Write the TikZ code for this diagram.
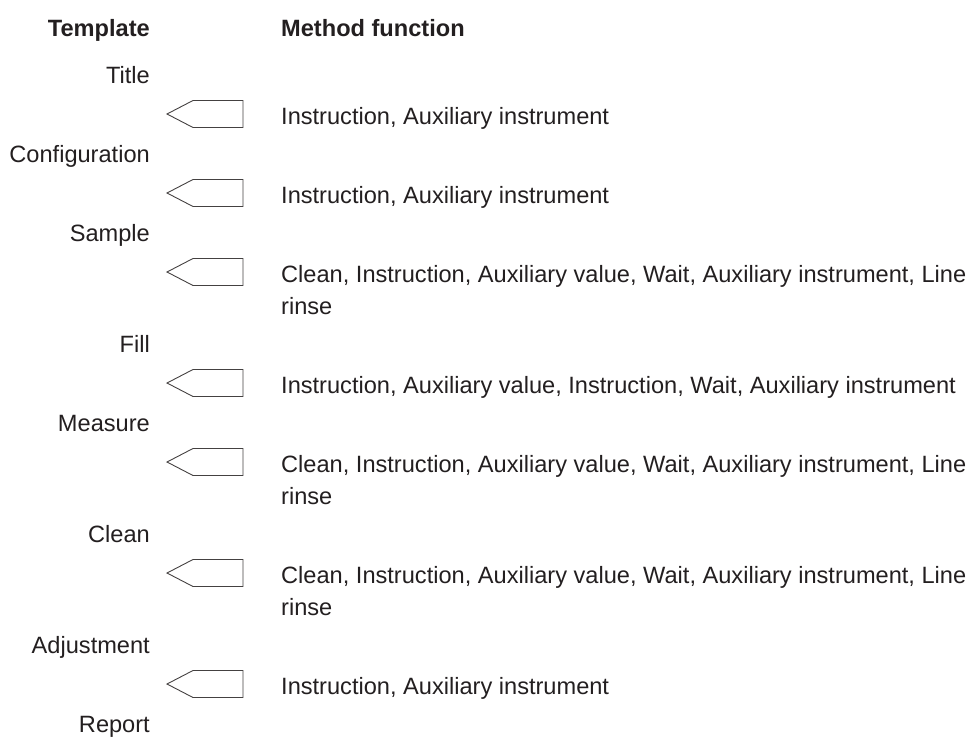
\documentclass[tikz,border=0pt]{standalone}
\usepackage{fontspec}
\setmainfont{Liberation Sans}
\usetikzlibrary{positioning}
\definecolor{ink}{HTML}{231F20}

\begin{document}
\begin{tikzpicture}[x=1pt,y=-1pt,
            every node/.style={text=ink,inner sep=0pt,font=\fontsize{23.6}{32}\selectfont},
            head/.style={font=\fontsize{23.6}{32}\selectfont\bfseries},
            tmpl/.style={anchor=base east},
            func/.style={anchor=base west,align=left},
            tagline/.style={draw=ink!85,line width=0.9pt,line join=miter},
            tag/.pic={\draw[tagline] (-38,0) -- (-12,-13.5) -- (38,-13.5) -- (38,13.5) -- (-12,13.5) -- cycle;}]
            \useasboundingbox (0,0) rectangle (973,736);
            \node[head,tmpl] (template) at (150,36) {Template};
            \node[head,func] (method) at (281,36) {Method function};
            \node[tmpl] (title) at (150,83) {Title};
            \pic (tag_1) at (205,114) {tag};
            \node[func] (fn_1) at (281,124) {Instruction, Auxiliary instrument};
            \node[tmpl] (config) at (150,162) {Configuration};
            \pic (tag_2) at (205,193) {tag};
            \node[func] (fn_2) at (281,203) {Instruction, Auxiliary instrument};
            \node[tmpl] (sample) at (150,241) {Sample};
            \pic (tag_3) at (205,272) {tag};
            % base of a two-line node is its last line
            \node[func] (fn_3) at (281,314) {Clean, Instruction, Auxiliary value, Wait, Auxiliary instrument, Line\\rinse};
            \node[tmpl] (fill) at (150,352) {Fill};
            \pic (tag_4) at (205,383) {tag};
            \node[func] (fn_4) at (281,393) {Instruction, Auxiliary value, Instruction, Wait, Auxiliary instrument};
            \node[tmpl] (measure) at (150,431) {Measure};
            \pic (tag_5) at (205,462) {tag};
            \node[func] (fn_5) at (281,504) {Clean, Instruction, Auxiliary value, Wait, Auxiliary instrument, Line\\rinse};
            \node[tmpl] (clean) at (150,542) {Clean};
            \pic (tag_6) at (205,573) {tag};
            \node[func] (fn_6) at (281,615) {Clean, Instruction, Auxiliary value, Wait, Auxiliary instrument, Line\\rinse};
            \node[tmpl] (adjust) at (150,653) {Adjustment};
            \pic (tag_7) at (205,684) {tag};
            \node[func] (fn_7) at (281,694) {Instruction, Auxiliary instrument};
            \node[tmpl] (report) at (150,732) {Report};
        \end{tikzpicture}
\end{document}
